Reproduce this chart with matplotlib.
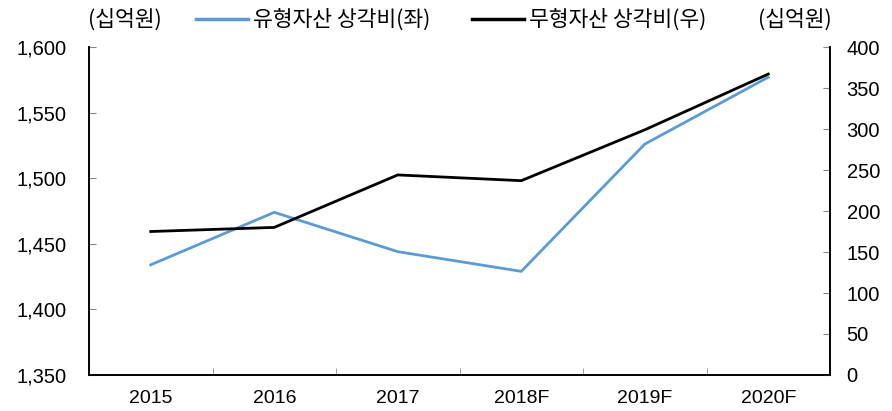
import matplotlib
matplotlib.use("Agg")
import matplotlib.pyplot as plt
from matplotlib.lines import Line2D

plt.rcParams['font.family'] = ['Liberation Sans', 'Noto Sans CJK KR', 'DejaVu Sans']

categories = ["2015", "2016", "2017", "2018F", "2019F", "2020F"]
tangible = [1434, 1474, 1444, 1429, 1526, 1577]
intangible = [175, 180, 244, 237, 299, 367]
left_ticks = [1350, 1400, 1450, 1500, 1550, 1600]
right_ticks = [0, 50, 100, 150, 200, 250, 300, 350, 400]
label_left = "유형자산 상각비(좌)"
label_right = "무형자산 상각비(우)"
unit = "(십억원)"

KR = ['Noto Sans CJK KR', 'DejaVu Sans']

fig = plt.figure(figsize=(8.92, 4.11), dpi=100)
ax = fig.add_axes([0.0998, 0.0876, 0.8307, 0.798])
ax2 = ax.twinx()

x = list(range(len(categories)))
ax.plot(x, tangible, color="#5B9BD5", lw=2.0, solid_joinstyle="miter")
ax2.plot(x, intangible, color="black", lw=2.0, solid_joinstyle="miter")

ax.set_xlim(-0.5, len(categories) - 0.5)
ax.set_ylim(1350, 1600)
ax2.set_ylim(0, 400)
ax.set_yticks(left_ticks)
ax.set_yticklabels([f"{v:,}" for v in left_ticks])
ax2.set_yticks(right_ticks)
ax2.set_yticklabels([str(v) for v in right_ticks])

ax.set_xticks(x)
ax.set_xticklabels(categories, family=['Liberation Sans Narrow', 'Liberation Sans'], fontsize=14)
ax.tick_params(axis='x', length=0, pad=11)
ax.set_xticks([i + 0.5 for i in x[:-1]], minor=True)
ax.tick_params(axis='x', which='minor', direction='in', length=5, color='#888888')

ax.tick_params(axis='y', direction='in', length=5, color='#888888', labelsize=14.5, pad=16)
ax2.tick_params(axis='y', direction='in', length=5, color='#888888', labelsize=14.5, pad=12)

for a in (ax, ax2):
    a.spines['top'].set_visible(False)
    for s in ('left', 'right', 'bottom'):
        a.spines[s].set_linewidth(1.2)
        a.spines[s].set_color('black')

fig.text(0.140, 0.951, unit, ha='center', va='center', fontsize=15.5, family=KR)
fig.text(0.891, 0.951, unit, ha='center', va='center', fontsize=15.5, family=KR)

handles = [Line2D([], [], color="#5B9BD5", lw=2.5), Line2D([], [], color="black", lw=2.5)]
leg = fig.legend(handles, [label_left, label_right], loc='center', bbox_to_anchor=(0.506, 0.951),
                 ncol=2, frameon=False, handlelength=2.42, handletextpad=0.23, columnspacing=1.95,
                 borderpad=0, borderaxespad=0,
                 prop={'family': KR, 'size': 15.5})

fig.savefig("out.png", dpi=100)
